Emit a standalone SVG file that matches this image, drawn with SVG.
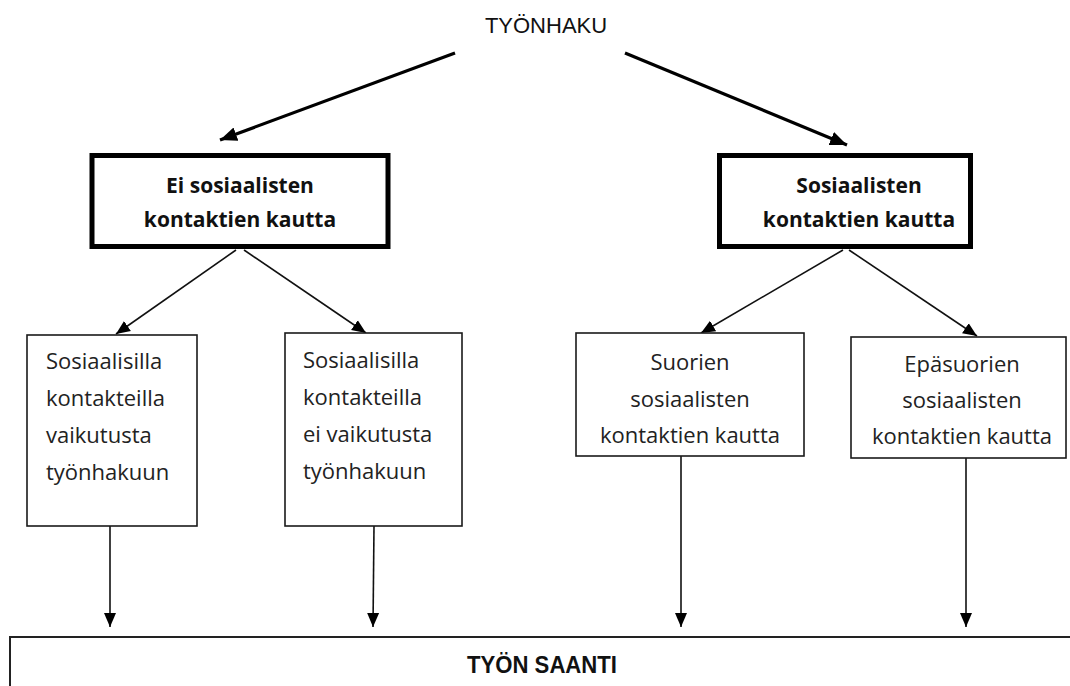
<svg xmlns="http://www.w3.org/2000/svg" width="1070" height="686" viewBox="0 0 1070 686">
<style>
.bg{fill:#ffffff}
.thick{fill:#fff;stroke:#000;stroke-width:5}
.thin{fill:#fff;stroke:#1a1a1a;stroke-width:1.6}
.t{font-family:"Open Sans","Liberation Sans",sans-serif;font-size:22px;fill:#222}
.b{font-family:"Open Sans","Liberation Sans",sans-serif;font-size:21px;font-weight:bold;fill:#111}
.title{font-family:"Liberation Sans",Arial,sans-serif;font-size:22px;fill:#111}
.conn{stroke:#111;stroke-width:1.6;fill:none}
.connB{stroke:#000;stroke-width:3.2;fill:none}
</style>
<defs>
<marker id="ah" markerUnits="userSpaceOnUse" markerWidth="14" markerHeight="13" refX="14" refY="6.5" orient="auto"><path d="M0,0.5 L14,6.5 L0,12.5 z" fill="#000"/></marker>
<marker id="ahB" markerUnits="userSpaceOnUse" markerWidth="17" markerHeight="15" refX="17" refY="7.5" orient="auto"><path d="M0,0.5 L17,7.5 L0,14.5 z" fill="#000"/></marker>
</defs>
<rect class="bg" x="0" y="0" width="1070" height="686"/>
<g id="connectors">
<line class="connB" x1="455" y1="53" x2="220" y2="140" marker-end="url(#ahB)"/>
<line class="connB" x1="625" y1="53" x2="847" y2="145" marker-end="url(#ahB)"/>
<line class="conn" x1="236" y1="250" x2="116" y2="334" marker-end="url(#ah)"/>
<line class="conn" x1="244" y1="250" x2="366" y2="333" marker-end="url(#ah)"/>
<line class="conn" x1="843" y1="250" x2="701" y2="333" marker-end="url(#ah)"/>
<line class="conn" x1="849" y1="250" x2="977" y2="336" marker-end="url(#ah)"/>
<line class="conn" x1="110" y1="526" x2="110" y2="627" marker-end="url(#ah)"/>
<line class="conn" x1="374" y1="526" x2="373" y2="627" marker-end="url(#ah)"/>
<line class="conn" x1="681" y1="456" x2="681" y2="627" marker-end="url(#ah)"/>
<line class="conn" x1="966" y1="458" x2="966" y2="627" marker-end="url(#ah)"/>
</g>
<g id="tyonhaku">
<text class="title" x="546" y="33" text-anchor="middle">TYÖNHAKU</text>
</g>
<g id="ei-sosiaalisten">
<rect class="thick" x="92" y="155.5" width="296" height="91"/>
<text class="b" x="240" y="193" text-anchor="middle">Ei sosiaalisten</text>
<text class="b" x="240" y="227" text-anchor="middle">kontaktien kautta</text>
</g>
<g id="sosiaalisten">
<rect class="thick" x="719.5" y="155.5" width="251" height="91"/>
<text class="b" x="859" y="193" text-anchor="middle">Sosiaalisten</text>
<text class="b" x="859" y="227" text-anchor="middle">kontaktien kautta</text>
</g>
<g id="vaikutusta">
<rect class="thin" x="27" y="335" width="170" height="191"/>
<text class="t" x="46" y="369">Sosiaalisilla</text>
<text class="t" x="46" y="406">kontakteilla</text>
<text class="t" x="46" y="443">vaikutusta</text>
<text class="t" x="46" y="480">työnhakuun</text>
</g>
<g id="ei-vaikutusta">
<rect class="thin" x="285" y="333" width="177" height="193"/>
<text class="t" x="303" y="368">Sosiaalisilla</text>
<text class="t" x="303" y="405">kontakteilla</text>
<text class="t" x="303" y="442">ei vaikutusta</text>
<text class="t" x="303" y="479">työnhakuun</text>
</g>
<g id="suorien">
<rect class="thin" x="576" y="333" width="228" height="123"/>
<text class="t" x="690" y="370" text-anchor="middle">Suorien</text>
<text class="t" x="690" y="407" text-anchor="middle">sosiaalisten</text>
<text class="t" x="690" y="443" text-anchor="middle">kontaktien kautta</text>
</g>
<g id="epasuorien">
<rect class="thin" x="851" y="337" width="215" height="121"/>
<text class="t" x="962" y="372" text-anchor="middle">Epäsuorien</text>
<text class="t" x="962" y="408" text-anchor="middle">sosiaalisten</text>
<text class="t" x="962" y="444" text-anchor="middle">kontaktien kautta</text>
</g>
<g id="tyon-saanti">
<rect x="10" y="637" width="1080" height="80" fill="#fff" stroke="#222" stroke-width="2"/>
<text x="542" y="673" text-anchor="middle" font-family="Liberation Sans, Arial, sans-serif" font-size="24" font-weight="bold" fill="#111" textLength="150" lengthAdjust="spacingAndGlyphs">TYÖN SAANTI</text>
</g>
</svg>
